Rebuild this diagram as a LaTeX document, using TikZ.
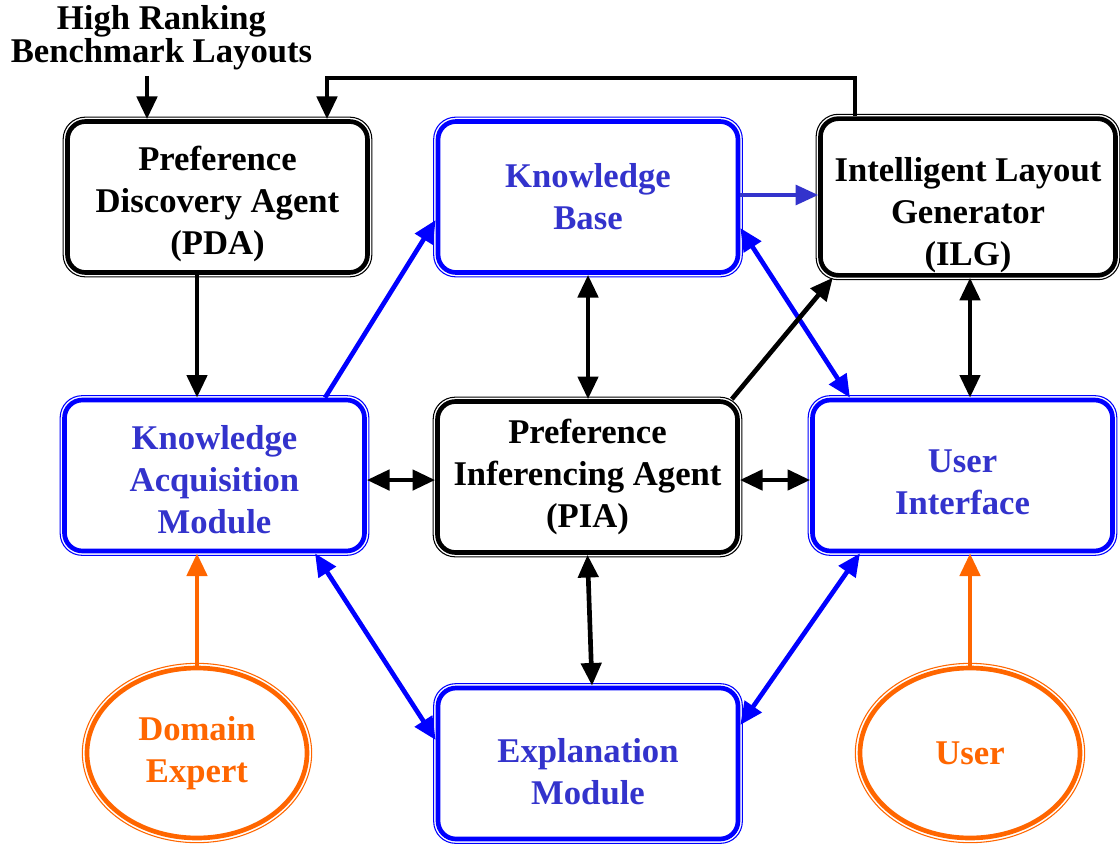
\documentclass[tikz,border=0pt]{standalone}
\usepackage{fontspec}
\setmainfont{Liberation Serif}
\usetikzlibrary{arrows.meta,shapes.geometric}
\definecolor{boxblue}{HTML}{0000FF}
\definecolor{textblue}{HTML}{3333CC}
\definecolor{userorange}{HTML}{FF6600}
\begin{document}
\begin{tikzpicture}
      [x=0.75pt,y=-0.75pt,
      every node/.style={font=\fontsize{26}{31.5}\selectfont\bfseries, align=center},
      modbox/.style={rectangle, rounded corners=13.5pt, line width=3.5pt, minimum width=225pt, minimum height=113.25pt, inner sep=2pt},
      agent/.style={modbox, draw=black},
      module/.style={modbox, draw=boxblue, text=textblue},
      actor/.style={ellipse, draw=userorange, text=userorange, line width=3.5pt, minimum width=165pt, minimum height=127.5pt, inner sep=0pt},
      thinframe/.style={line width=0.8pt, rounded corners=16.5pt},
      link/.style={line width=3.5pt, -{Triangle[length=17pt,width=15pt]}},
      twolink/.style={line width=3.5pt, {Triangle[length=17pt,width=15pt]}-{Triangle[length=17pt,width=15pt]}},
      ]
      \useasboundingbox (0,0) rectangle (1120,845);
      \node[font=\fontsize{26}{24.75}\selectfont\bfseries] (ttl) at (161.5,38) {High Ranking\\Benchmark Layouts};
      \node[agent] (pda) at (217.5,197) {\rule{0pt}{28.5pt}Preference\\Discovery Agent\\(PDA)};
      \node[module] (kb) at (588,197) {Knowledge\\Base};
      \node[agent, minimum width=221.25pt] (ilg) at (968,197) {\rule{0pt}{45pt}Intelligent Layout\\Generator\\(ILG)};
      \node[module] (kam) at (214.5,475.5) {\rule{0pt}{25pt}Knowledge\\Acquisition\\Module};
      \node[agent] (pia) at (587.5,477) {Preference\\Inferencing Agent\\(PIA)};
      \node[module] (ui) at (962.5,475.5) {\rule{0pt}{27pt}User\\Interface};
      \node[module] (em) at (588,763.5) {\rule{0pt}{30pt}Explanation\\Module};
      \node[actor] (de) at (197,753) {Domain\\Expert};
      \node[actor] (user) at (970,753) {User};
      % thin outer lines
      \foreach \n in {pda,ilg,pia}
        \draw[thinframe] ([shift={(-1.5pt,-1.5pt)}]\n.south west) rectangle ([shift={(1.5pt,1.5pt)}]\n.north east);
      \foreach \n in {kb,kam,ui,em}
        \draw[thinframe, draw=boxblue] ([shift={(-1.5pt,-1.5pt)}]\n.south west) rectangle ([shift={(1.5pt,1.5pt)}]\n.north east);
      \foreach \n in {de,user}
        \draw[userorange, line width=0.8pt] (\n.center) ellipse [x radius=86pt, y radius=67.25pt];
      % connectors
      \coordinate (bmk) at (147,76);
      \coordinate (fb) at (327,78);
      \draw[link] (bmk) -- (bmk |- pda.north);
      \draw[link] ([xshift=-84.75pt]ilg.north) |- (fb) -- (fb |- pda.north);
      \draw[link] (pda.south -| de) -- (kam.north -| de);
      \draw[link, boxblue] ([xshift=82.9pt]kam.north) -- ([yshift=-17.25pt]kb.west);
      \draw[link, textblue, line width=2.5pt] ([yshift=1.5pt]kb.east) -- ([yshift=1.5pt]kb.east -| ilg.west);
      \draw[twolink] (kb.south) -- (kb.south |- pia.north);
      \draw[twolink, boxblue] ([yshift=-23.25pt]kb.east) -- ([xshift=-84.4pt]ui.north);
      \draw[link] ([xshift=-6pt]pia.north east) -- ([xshift=11pt]ilg.south west);
      \draw[twolink] (ilg.south -| user) -- (ui.north -| user);
      \draw[twolink] ([yshift=-3.4pt]kam.east) -- ([yshift=-3.4pt]kam.east -| pia.west);
      \draw[twolink] ([yshift=-2.25pt]pia.east) -- ([yshift=-2.25pt]pia.east -| ui.west);
      \draw[twolink] (pia.south) -- ([xshift=3pt]em.north);
      \draw[twolink, boxblue] ([xshift=75.4pt]kam.south) -- ([yshift=17.6pt]em.west);
      \draw[twolink, boxblue] ([xshift=-76.9pt]ui.south) -- ([yshift=28.9pt]em.east);
      \draw[link, userorange] (de.north) -- (kam.south -| de);
      \draw[link, userorange] (user.north) -- (ui.south -| user);
\end{tikzpicture}
\end{document}
